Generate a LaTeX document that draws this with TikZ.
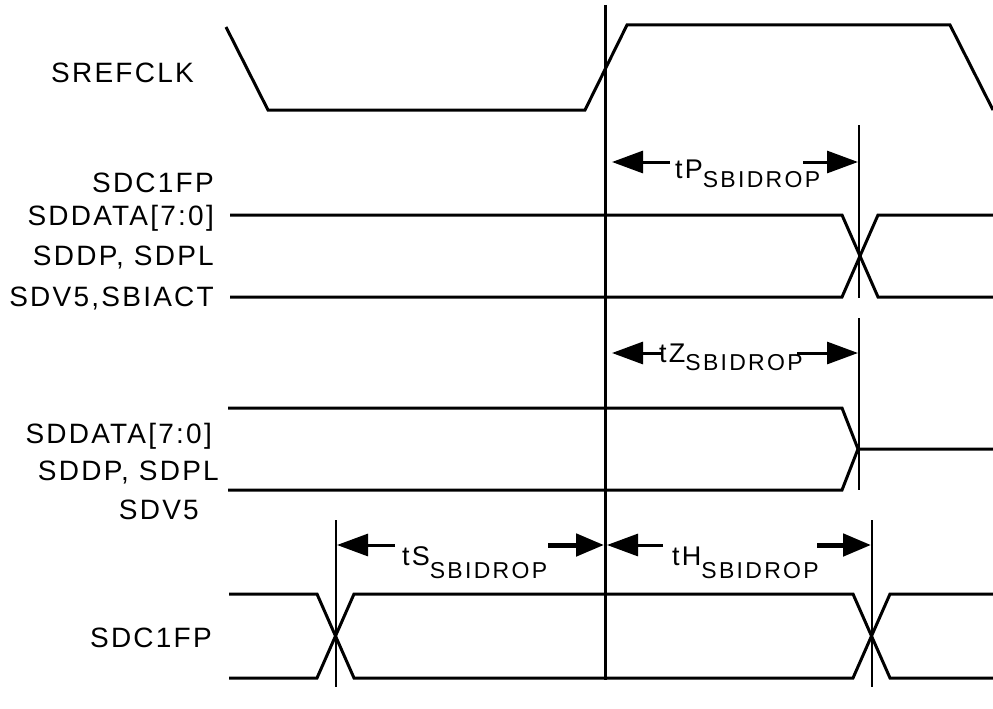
\documentclass[tikz,border=0pt]{standalone}
\usepackage{fontspec}
\setmainfont{Liberation Sans}
\newfontfamily\labfont{Liberation Sans}[LetterSpace=8]
\newfontfamily\subfont{Liberation Sans}[LetterSpace=10]
\usetikzlibrary{arrows.meta}
\newcommand{\tlab}[2]{{\fontsize{27}{27}\selectfont #1}\raisebox{#2}{\subfont\fontsize{23}{23}\selectfont SBIDROP}}
\begin{document}
\begin{tikzpicture}[x=1pt,y=-1pt,
  sig/.style={line width=3pt, line join=miter},
  mark line/.style={line width=2pt},
  main line/.style={line width=3pt},
  lab/.style={inner sep=0pt, font=\labfont\fontsize{28}{28}\selectfont},
  tim/.style={inner sep=0pt, anchor=base west, font=\labfont},
  arr/.style={line width=3pt, -{Triangle[length=31pt,width=22pt]}},
  arrb/.style={line width=5pt, -{Triangle[length=28pt,width=22pt]}}]
\useasboundingbox (0,0) rectangle (993,709);
\fill[white] (0,0) rectangle (993,709);

% labels
\node[lab, anchor=base west] (lclk) at (51,82) {SREFCLK};
\node[lab, anchor=base east] (la1) at (214,192) {SDC1FP};
\node[lab, anchor=base east] (la2) at (214,225) {SDDATA[7:0]};
\node[lab, anchor=base east] (la3) at (214,265) {SDDP, SDPL};
\node[lab, anchor=base east] (la4) at (214,306) {SDV5,SBIACT};
\node[lab, anchor=base east] (lb1) at (212,443) {SDDATA[7:0]};
\node[lab, anchor=base east] (lb2) at (219,480) {SDDP, SDPL};
\node[lab, anchor=base east] (lb3) at (199,519) {SDV5};
\node[lab, anchor=base east] (lc1) at (212,647) {SDC1FP};

% main reference line
\draw[main line] (605,5) -- (605,680);

% SREFCLK
\draw[sig] (226,27) -- (268,110) -- (585,110) -- (627,25) -- (950,25) -- (993,110);

% group 1
\draw[sig] (230,215) -- (842,215) -- (878,297) -- (993,297);
\draw[sig] (230,297) -- (842,297) -- (878,215) -- (993,215);
\draw[mark line] (859,125) -- (859,298);
\draw[arr] (670,162) -- (612,162);
\node[tim] (tp) at (675,178) {\tlab{tP}{-9pt}};
\draw[arr] (803,162) -- (858,162);

% group 2
\draw[sig] (228,408) -- (842,408) -- (858,449) -- (993,449);
\draw[sig] (228,490) -- (842,490) -- (858,449);
\draw[mark line] (859,318) -- (859,490);
\draw[arr] (662,353) -- (612,353);
\node[tim] (tz) at (659,362) {\tlab{tZ}{-8pt}};
\draw[arr] (797,353) -- (858,353);

% group 3
\draw[sig] (229,594) -- (317,594) -- (354,678) -- (853,678) -- (890,594) -- (993,594);
\draw[sig] (229,678) -- (317,678) -- (354,594) -- (853,594) -- (890,678) -- (993,678);
\draw[mark line] (336,520) -- (336,687);
\draw[mark line] (872,520) -- (872,687);
\draw[arr] (395,545) -- (337,545);
\node[tim] (ts) at (402,565) {\tlab{tS}{-13pt}};
\draw[arrb] (548,545) -- (604,545);
\draw[arr] (663,545) -- (607,545);
\node[tim] (th) at (672,565) {\tlab{tH}{-13pt}};
\draw[arrb] (817,545) -- (871,545);
\end{tikzpicture}
\end{document}
